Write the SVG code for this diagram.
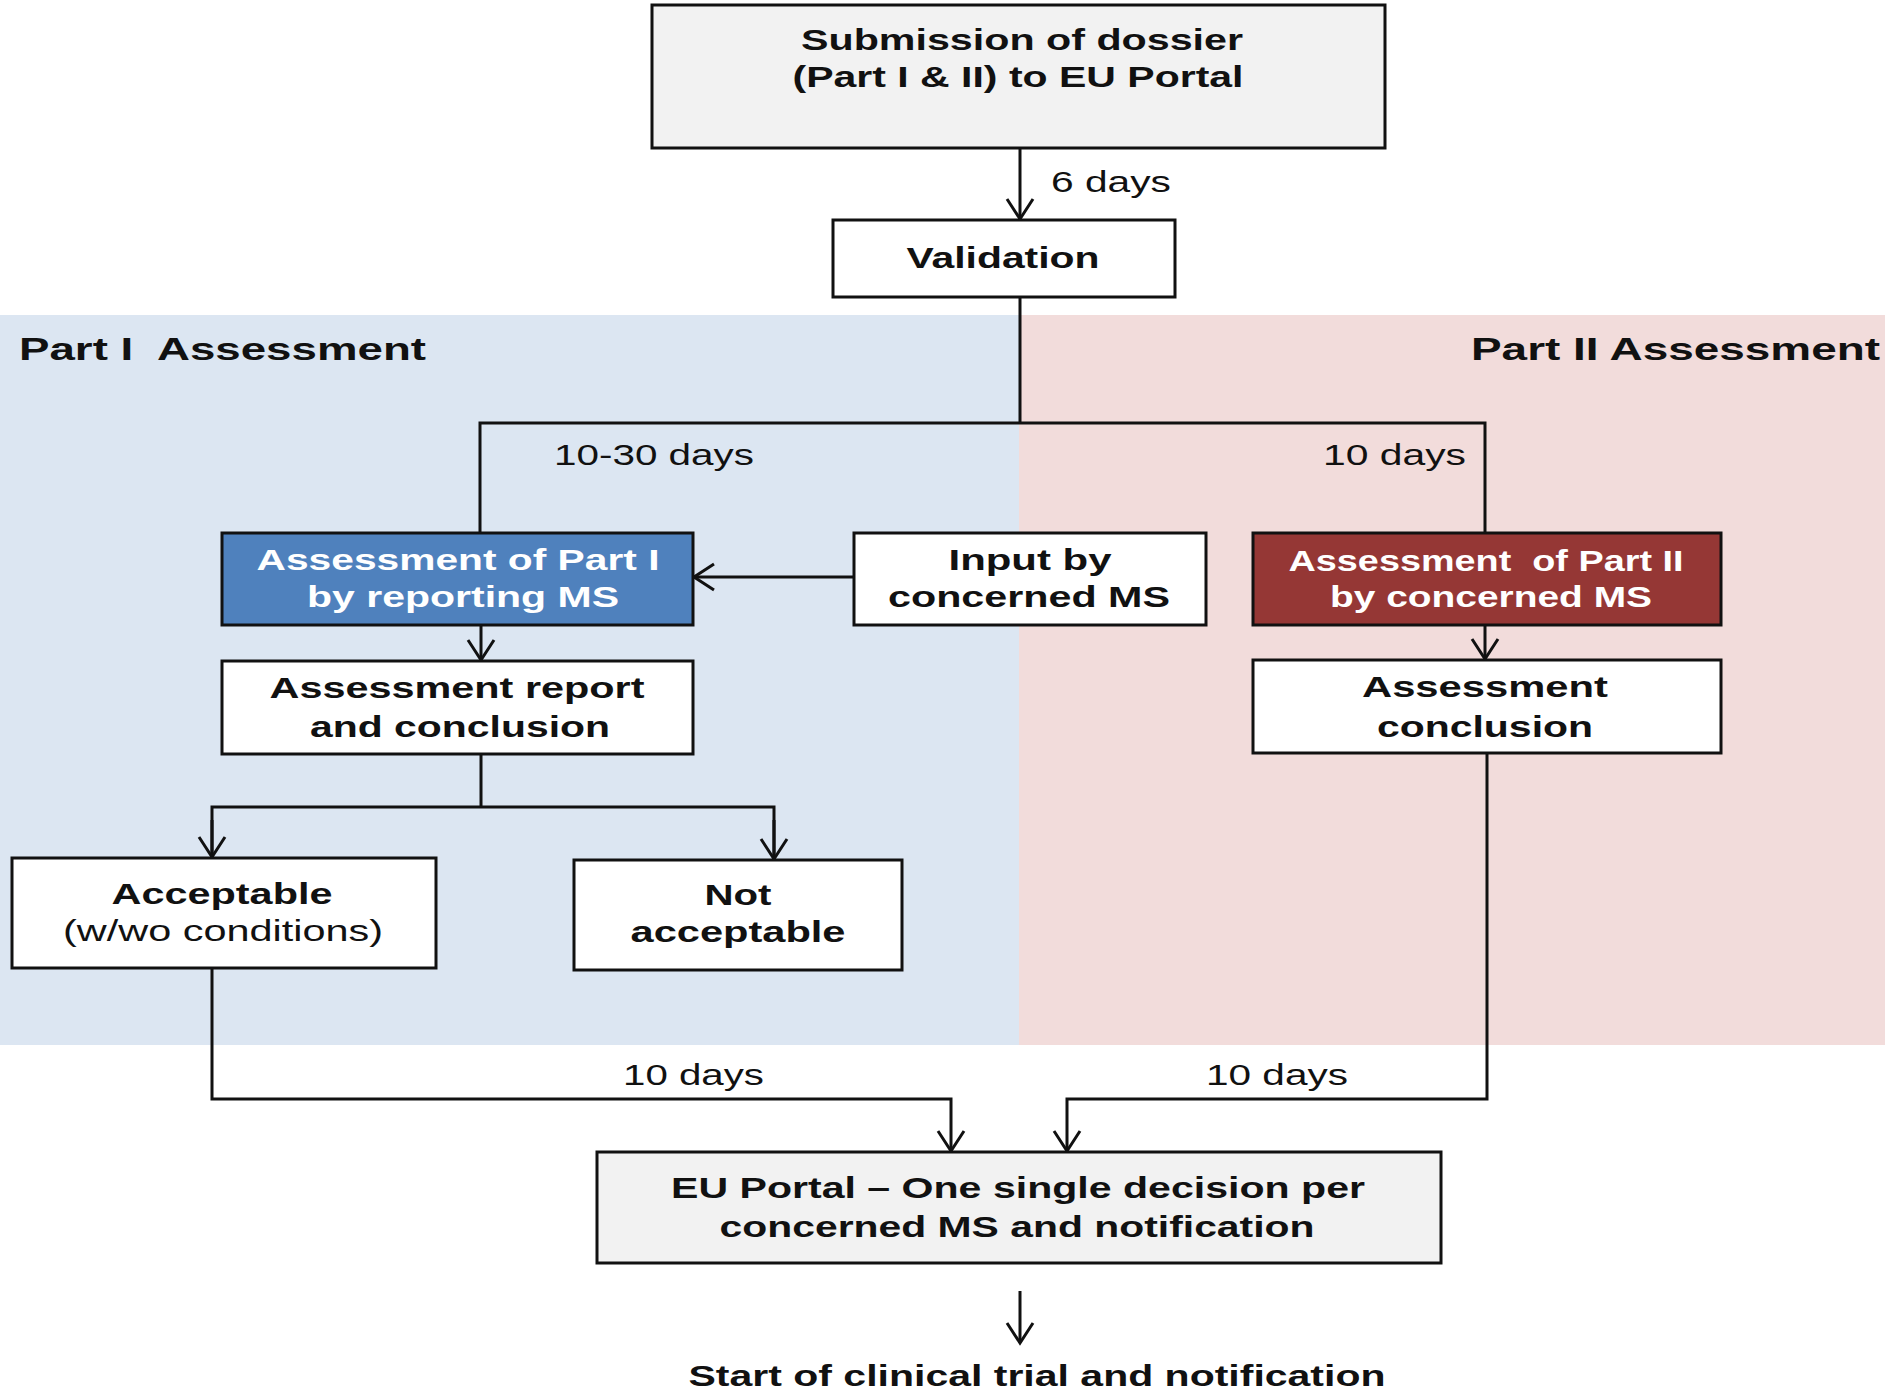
<svg xmlns="http://www.w3.org/2000/svg" width="1885" height="1390" viewBox="0 0 1885 1390">
<defs>
<style>
.box{stroke:#111;stroke-width:3;fill:#fff}
.grey{fill:#f2f2f2}
.blue{fill:#4f81bd}
.red{fill:#953735}
.t{font-family:"Liberation Sans",Arial,sans-serif;font-size:30px;font-weight:bold;fill:#111;text-anchor:middle}
.w{fill:#fff}
.r{font-weight:normal}
.lbl{font-family:"Liberation Sans",Arial,sans-serif;font-size:29px;fill:#111}
.hd{font-family:"Liberation Sans",Arial,sans-serif;font-size:32px;font-weight:bold;fill:#111}
.c{fill:none;stroke:#111;stroke-width:3}
</style>
<marker id="ah" markerUnits="userSpaceOnUse" viewBox="-24 -15 27 30" markerWidth="27" markerHeight="30" refX="0" refY="0" orient="auto">
<path d="M-20,-13 L0,0 L-20,13" fill="none" stroke="#111" stroke-width="3"/>
</marker>
</defs>
<rect width="1885" height="1390" fill="#fff"/>
<g id="regions">
<rect x="0" y="315" width="1019" height="730" fill="#dce6f2"/>
<rect x="1019" y="315" width="866" height="730" fill="#f2dcdb"/>
<text class="hd" x="19" y="360" textLength="407" lengthAdjust="spacingAndGlyphs" xml:space="preserve">Part I  Assessment</text>
<text class="hd" x="1471" y="360" textLength="409" lengthAdjust="spacingAndGlyphs">Part II Assessment</text>
</g>
<g id="connectors">
<line class="c" x1="1020" y1="148" x2="1020" y2="219" marker-end="url(#ah)"/>
<line class="c" x1="1020" y1="297" x2="1020" y2="423"/>
<polyline class="c" points="480,533 480,423 1485,423 1485,533"/>
<line class="c" x1="854" y1="577" x2="694" y2="577" marker-end="url(#ah)"/>
<line class="c" x1="481" y1="625" x2="481" y2="660" marker-end="url(#ah)"/>
<line class="c" x1="1485" y1="625" x2="1485" y2="659" marker-end="url(#ah)"/>
<line class="c" x1="481" y1="754" x2="481" y2="807"/>
<polyline class="c" points="212,857 212,807 774,807 774,859"/>
<line class="c" x1="212" y1="820" x2="212" y2="857" marker-end="url(#ah)"/>
<line class="c" x1="774" y1="820" x2="774" y2="859" marker-end="url(#ah)"/>
<polyline class="c" points="212,968 212,1099 951,1099 951,1151" marker-end="url(#ah)"/>
<polyline class="c" points="1487,753 1487,1099 1067,1099 1067,1151" marker-end="url(#ah)"/>
<line class="c" x1="1020" y1="1291" x2="1020" y2="1343" marker-end="url(#ah)"/>
<text class="lbl" x="1051" y="192" textLength="120" lengthAdjust="spacingAndGlyphs">6 days</text>
<text class="lbl" x="554" y="465" textLength="200" lengthAdjust="spacingAndGlyphs">10-30 days</text>
<text class="lbl" x="1323" y="465" textLength="143" lengthAdjust="spacingAndGlyphs">10 days</text>
<text class="lbl" x="623" y="1085" textLength="141" lengthAdjust="spacingAndGlyphs">10 days</text>
<text class="lbl" x="1206" y="1085" textLength="142" lengthAdjust="spacingAndGlyphs">10 days</text>
</g>
<g id="submission">
<rect class="box grey" x="652" y="5" width="733" height="143"/>
<text class="t" x="1022" y="50" textLength="442" lengthAdjust="spacingAndGlyphs">Submission of dossier</text>
<text class="t" x="1018" y="87" textLength="451" lengthAdjust="spacingAndGlyphs">(Part I &amp; II) to EU Portal</text>
</g>
<g id="validation">
<rect class="box" x="833" y="220" width="342" height="77"/>
<text class="t" x="1003" y="268" textLength="193" lengthAdjust="spacingAndGlyphs">Validation</text>
</g>
<g id="assess-part1">
<rect class="box blue" x="222" y="533" width="471" height="92"/>
<text class="t w" x="458" y="570" textLength="403" lengthAdjust="spacingAndGlyphs">Assessment of Part I</text>
<text class="t w" x="463" y="607" textLength="312" lengthAdjust="spacingAndGlyphs">by reporting MS</text>
</g>
<g id="input-ms">
<rect class="box" x="854" y="533" width="352" height="92"/>
<text class="t" x="1030" y="570" textLength="163" lengthAdjust="spacingAndGlyphs">Input by</text>
<text class="t" x="1029" y="607" textLength="282" lengthAdjust="spacingAndGlyphs">concerned MS</text>
</g>
<g id="assess-part2">
<rect class="box red" x="1253" y="533" width="468" height="92"/>
<text class="t w" x="1486" y="571" textLength="395" lengthAdjust="spacingAndGlyphs" xml:space="preserve">Assessment  of Part II</text>
<text class="t w" x="1491" y="607" textLength="322" lengthAdjust="spacingAndGlyphs">by concerned MS</text>
</g>
<g id="report">
<rect class="box" x="222" y="661" width="471" height="93"/>
<text class="t" x="457" y="698" textLength="375" lengthAdjust="spacingAndGlyphs">Assessment report</text>
<text class="t" x="460" y="737" textLength="300" lengthAdjust="spacingAndGlyphs">and conclusion</text>
</g>
<g id="conclusion2">
<rect class="box" x="1253" y="660" width="468" height="93"/>
<text class="t" x="1485" y="697" textLength="246" lengthAdjust="spacingAndGlyphs">Assessment</text>
<text class="t" x="1485" y="737" textLength="216" lengthAdjust="spacingAndGlyphs">conclusion</text>
</g>
<g id="acceptable">
<rect class="box" x="12" y="858" width="424" height="110"/>
<text class="t" x="222" y="904" textLength="221" lengthAdjust="spacingAndGlyphs">Acceptable</text>
<text class="t r" x="223" y="941" textLength="320" lengthAdjust="spacingAndGlyphs">(w/wo conditions)</text>
</g>
<g id="not-acceptable">
<rect class="box" x="574" y="860" width="328" height="110"/>
<text class="t" x="738" y="905" textLength="67" lengthAdjust="spacingAndGlyphs">Not</text>
<text class="t" x="738" y="942" textLength="215" lengthAdjust="spacingAndGlyphs">acceptable</text>
</g>
<g id="eu-portal">
<rect class="box grey" x="597" y="1152" width="844" height="111"/>
<text class="t" x="1018" y="1198" textLength="694" lengthAdjust="spacingAndGlyphs">EU Portal – One single decision per</text>
<text class="t" x="1017" y="1237" textLength="595" lengthAdjust="spacingAndGlyphs">concerned MS and notification</text>
</g>
<g id="start">
<text class="t" x="1037" y="1386" textLength="697" lengthAdjust="spacingAndGlyphs">Start of clinical trial and notification</text>
</g>
</svg>
